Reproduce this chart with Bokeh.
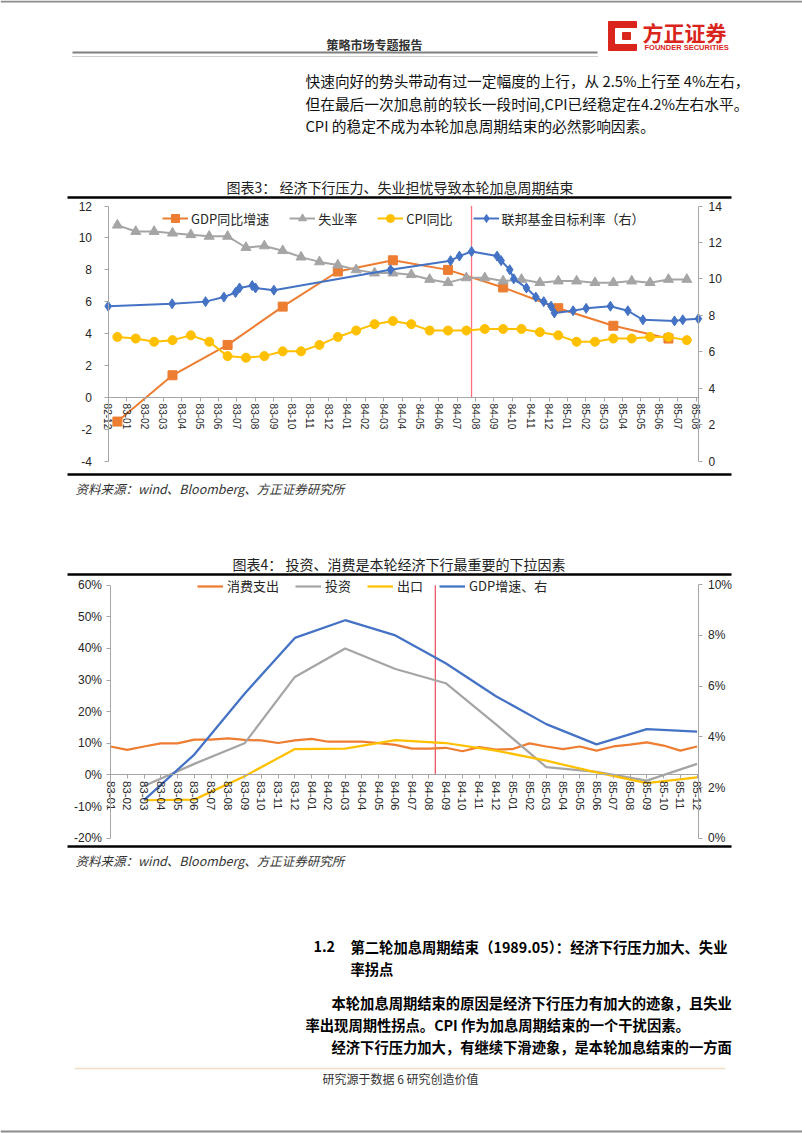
from bokeh.plotting import figure
from bokeh.models import Range1d, LinearAxis, FixedTicker, Legend, LegendItem
from bokeh.embed import file_html
from bokeh.resources import INLINE
from bokeh.core.properties import value

# ---------------- data: chart 3 ----------------
months3 = ["82-12", "83-01", "83-02", "83-03", "83-04", "83-05", "83-06", "83-07", "83-08",
           "83-09", "83-10", "83-11", "83-12", "84-01", "84-02", "84-03", "84-04", "84-05",
           "84-06", "84-07", "84-08", "84-09", "84-10", "84-11", "84-12", "85-01", "85-02",
           "85-03", "85-04", "85-05", "85-06", "85-07", "85-08"]
gdp3_x = [0.5, 3.5, 6.5, 9.5, 12.5, 15.5, 18.5, 21.5, 24.5, 27.5, 30.5]
gdp3 = [-1.5, 1.4, 3.3, 5.7, 7.9, 8.6, 8.0, 6.9, 5.6, 4.5, 3.7]
unemp3 = [10.8, 10.4, 10.4, 10.3, 10.2, 10.1, 10.1, 9.4, 9.5, 9.2, 8.8, 8.5, 8.3, 8.0, 7.8, 7.8,
          7.7, 7.4, 7.2, 7.5, 7.5, 7.3, 7.4, 7.2, 7.3, 7.3, 7.2, 7.2, 7.3, 7.2, 7.4, 7.4]
cpi3 = [3.8, 3.7, 3.5, 3.6, 3.9, 3.5, 2.6, 2.5, 2.6, 2.9, 2.9, 3.3, 3.8, 4.2, 4.6, 4.8,
        4.6, 4.2, 4.2, 4.2, 4.3, 4.3, 4.3, 4.1, 3.9, 3.5, 3.5, 3.7, 3.7, 3.8, 3.8, 3.6]
monthly3_x = [i + 0.5 for i in range(len(unemp3))]   # mid-month positions (Dec-82 .. Jul-85)
fed_x = [0.0, 3.48, 5.3, 6.3, 6.93, 7.15, 7.84, 8.02, 9.02, 15.37, 18.64, 19.12, 19.78, 21.17,
         21.39, 21.86, 22.08, 22.77, 23.28, 23.71, 24.11, 24.29, 25.31, 26.02, 27.34, 28.29,
         29.11, 30.83, 31.28, 32.13]
fed_y = [8.5, 8.63, 8.75, 9.0, 9.25, 9.5, 9.63, 9.5, 9.38, 10.5, 11.0, 11.25, 11.5, 11.25,
         11.0, 10.5, 10.0, 9.5, 9.0, 8.75, 8.5, 8.13, 8.25, 8.38, 8.5, 8.25,
         7.75, 7.69, 7.75, 7.81]
hike_end3 = [19.78]
left3_ticks = [-4, -2, 0, 2, 4, 6, 8, 10, 12]
right3_ticks = [0, 2, 4, 6, 8, 10, 12, 14]
names3 = ["GDP同比增速", "失业率", "CPI同比", "联邦基金目标利率（右）"]

# ---------------- data: chart 4 ----------------
months4 = ["83-01", "83-02", "83-03", "83-04", "83-05", "83-06", "83-07", "83-08", "83-09",
           "83-10", "83-11", "83-12", "84-01", "84-02", "84-03", "84-04", "84-05", "84-06",
           "84-07", "84-08", "84-09", "84-10", "84-11", "84-12", "85-01", "85-02", "85-03",
           "85-04", "85-05", "85-06", "85-07", "85-08", "85-09", "85-10", "85-11", "85-12"]
cons4 = [9.0, 7.9, 9.0, 10.0, 10.0, 11.2, 11.2, 11.6, 11.1, 10.9, 10.1, 10.9, 11.4, 10.5,
         10.5, 10.5, 10.1, 9.5, 8.3, 8.3, 8.6, 7.5, 8.8, 8.0, 8.2, 10.0, 9.0, 8.2, 9.0, 7.7,
         9.0, 9.6, 10.3, 9.3, 7.7, 9.0]
cons4_x = list(range(len(cons4)))
qtr4_x = [2, 5, 8, 11, 14, 17, 20, 23, 26, 29, 32, 35]
inv4 = [-3.5, 3.5, 10.0, 31.0, 40.0, 33.5, 29.0, 16.0, 2.5, 1.0, -1.8, 3.5]
exp4 = [-8.0, -7.8, -0.4, 8.2, 8.3, 11.0, 10.1, 7.7, 4.5, 0.8, -2.6, -0.8]
gdp4 = [1.5, 3.3, 5.7, 7.9, 8.6, 8.0, 6.9, 5.6, 4.5, 3.7, 4.3, 4.2]
hike_end4 = [19.38]
left4_ticks = [-20, -10, 0, 10, 20, 30, 40, 50, 60]
right4_ticks = [0, 2, 4, 6, 8, 10]
names4 = ["消费支出", "投资", "出口", "GDP增速、右"]

# ---------------- page texts ----------------
header_text = "策略市场专题报告"
para_top = ["快速向好的势头带动有过一定幅度的上行，从 2.5%上行至 4%左右，",
            "但在最后一次加息前的较长一段时间,CPI已经稳定在4.2%左右水平。",
            "CPI 的稳定不成为本轮加息周期结束的必然影响因素。"]
title3 = "图表3：  经济下行压力、失业担忧导致本轮加息周期结束"
title4 = "图表4：  投资、消费是本轮经济下行最重要的下拉因素"
source_text = "资料来源：wind、Bloomberg、方正证券研究所"
sec_num = "1.2"
sec_title = ["第二轮加息周期结束（1989.05）：经济下行压力加大、失业", "率拐点"]
para_bottom = ["本轮加息周期结束的原因是经济下行压力有加大的迹象，且失业",
               "率出现周期性拐点。CPI 作为加息周期结束的一个干扰因素。",
               "经济下行压力加大，有继续下滑迹象，是本轮加息结束的一方面"]
footer_text = "研究源于数据 6 研究创造价值"

ORANGE, GRAY, YELLOW, BLUE = "#ED7D31", "#A5A5A5", "#FFC000", "#4472C4"
RED = "#DA251D"
W, H = 802, 1133
CJK = "Noto Sans CJK SC"
AX = "#A6A6A6"
NARROW = "'Liberation Sans Narrow', 'Liberation Sans', sans-serif"


def axis_range(p0, v0, p1, v1, s_px, e_px):
    """Range whose values map linearly so that value v0 sits at pixel p0 and v1 at p1."""
    k = (v1 - v0) / (p1 - p0)
    return Range1d(v0 + (s_px - p0) * k, v0 + (e_px - p0) * k)


def px_to_val(px, p0, v0, p1, v1):
    return v0 + (px - p0) * (v1 - v0) / (p1 - p0)


# one page-sized figure; the default ranges are page pixels (y downwards)
p = figure(width=W, height=H, x_range=Range1d(0, W), y_range=Range1d(H, 0),
           x_axis_type=None, y_axis_type=None, output_backend="svg", toolbar_location=None,
           min_border=0, outline_line_color=None, background_fill_color="white",
           border_fill_color="white")
p.grid.visible = False

# chart frames (pixel layout of the two charts)
C3 = dict(x0=107.7, x32=695.5, yl_lo=461.0, yl_hi=205.5, yr_lo=460.5, yr_hi=205.5, left=107.5, right=698.0)
C4 = dict(x0=110.0, x35=696.6, yl_lo=837.7, yl_hi=584.7, yr_lo=837.7, yr_hi=584.2, left=109.5, right=697.5)

p.extra_x_ranges = {
    "x3": axis_range(C3["x0"], 0, C3["x32"], 32, 0, W),
    "x4": axis_range(C4["x0"], 0, C4["x35"], 35, 0, W),
}
p.extra_y_ranges = {
    "y3L": axis_range(C3["yl_lo"], -4, C3["yl_hi"], 12, H, 0),
    "y3R": axis_range(C3["yr_lo"], 0, C3["yr_hi"], 14, H, 0),
    "y4L": axis_range(C4["yl_lo"], -20, C4["yl_hi"], 60, H, 0),
    "y4R": axis_range(C4["yr_lo"], 0, C4["yr_hi"], 10, H, 0),
}


def txt(x, y, s, size, color="#000000", align="left", style="normal", font=CJK):
    p.text(x=[x], y=[y], text=[s], text_font=value(font), text_font_size=value(size),
           text_color=color, text_align=align, text_baseline="middle", text_font_style=style)


def hline(x0, x1, y, color, width, dash="solid"):
    p.segment(x0=[x0], y0=[y], x1=[x1], y1=[y], line_color=color, line_width=width, line_dash=dash)


def style_axis(ax, size="12px", font="Liberation Sans", standoff=6):
    ax.axis_line_color = AX
    ax.major_tick_line_color = AX
    ax.major_tick_out = 4
    ax.major_tick_in = 0
    ax.minor_tick_out = 0
    ax.minor_tick_in = 0
    ax.major_label_text_font = font
    ax.major_label_text_font_size = size
    ax.major_label_text_color = "#262626"
    ax.major_label_standoff = standoff


# ---------------- page decorations & texts ----------------
hline(0, W, 1, "#8c8c8c", 2)
txt(326, 44, header_text, "12px", "#333333", style="bold")
hline(72, 597, 52, "#7f7f7f", 2)
hline(72, 597, 56, "#a0a0a0", 1, "1 1")
p.patch(x=[608, 636, 636, 608], y=[21, 21, 50, 50], color=RED)
p.patch(x=[615, 640, 640, 615], y=[28, 28, 43, 43], color="white")
p.patch(x=[622, 630, 630, 622], y=[32, 32, 39, 39], color=RED)
txt(642, 31, "方正证券", "21px", RED, style="bold")
txt(644, 47, "FOUNDER SECURITIES", "7.5px", RED, style="bold", font="Liberation Sans")
for i, line in enumerate(para_top):
    txt(305, 80 + 22.5 * i, line, "14.7px", "#111111")

txt(401, 186, title3, "14px", "#222222", align="center")
hline(67, 731, 197, "#000000", 2.5)
hline(67, 731, 474, "#000000", 2.5)
txt(75, 488, source_text, "12.5px", "#333333", style="italic")

txt(400, 563, title4, "14px", "#222222", align="center")
hline(67, 731, 574, "#000000", 2.5)
hline(67, 731, 846, "#000000", 2.5)
txt(75, 860, source_text, "12.5px", "#333333", style="italic")

txt(313, 946, sec_num, "14.3px", "#000000", style="bold")
txt(350, 946, sec_title[0], "14.3px", "#000000", style="bold")
txt(350, 968, sec_title[1], "14.3px", "#000000", style="bold")
txt(331, 1002, para_bottom[0], "14.3px", "#000000", style="bold")
txt(305, 1024, para_bottom[1], "14.3px", "#000000", style="bold")
txt(331, 1046, para_bottom[2], "14.3px", "#000000", style="bold")
hline(74, 725, 1068, "#F3DCC6", 1.5)
txt(322, 1078, footer_text, "12px", "#333333")
hline(0, W, 1131, "#8c8c8c", 2)

# ---------------- chart 3 ----------------
yl3 = LinearAxis(y_range_name="y3L", fixed_location=C3["left"], bounds=(-4, 12),
                 ticker=FixedTicker(ticks=left3_ticks),
                 major_label_overrides={t: str(t) for t in left3_ticks})
style_axis(yl3, "12px", standoff=12)
p.add_layout(yl3, "left")
yr3 = LinearAxis(y_range_name="y3R", fixed_location=C3["right"], bounds=(0, 14),
                 ticker=FixedTicker(ticks=right3_ticks),
                 major_label_overrides={t: str(t) for t in right3_ticks})
style_axis(yr3, "12px", standoff=6)
p.add_layout(yr3, "right")
x3_lo = px_to_val(C3["left"], C3["x0"], 0, C3["x32"], 32)
x3_hi = px_to_val(C3["right"], C3["x0"], 0, C3["x32"], 32)
xa3 = LinearAxis(x_range_name="x3", y_range_name="y3L", fixed_location=0, bounds=(x3_lo, x3_hi),
                 ticker=FixedTicker(ticks=list(range(len(months3)))),
                 major_label_overrides={i: m for i, m in enumerate(months3)},
                 major_label_orientation="vertical")
style_axis(xa3, "10px", standoff=2)
p.add_layout(xa3, "below")

p.segment(x0=hike_end3, y0=[0], x1=hike_end3, y1=[12], x_range_name="x3", y_range_name="y3L",
          line_color="#FF6F7E", line_width=1.3)
kw3L = dict(x_range_name="x3", y_range_name="y3L")
kw3R = dict(x_range_name="x3", y_range_name="y3R")
l1 = p.line(gdp3_x, gdp3, line_color=ORANGE, line_width=2, **kw3L)
s1 = p.scatter(gdp3_x, gdp3, marker="square", size=9, fill_color=ORANGE, line_color=ORANGE, **kw3L)
l2 = p.line(monthly3_x, unemp3, line_color=GRAY, line_width=2, **kw3L)
s2 = p.scatter(monthly3_x, unemp3, marker="triangle", size=10, fill_color=GRAY, line_color=GRAY, **kw3L)
l3 = p.line(monthly3_x, cpi3, line_color=YELLOW, line_width=2, **kw3L)
s3 = p.scatter(monthly3_x, cpi3, marker="circle", size=9, fill_color=YELLOW, line_color=YELLOW, **kw3L)
l4 = p.line(fed_x, fed_y, line_color=BLUE, line_width=2, **kw3R)
s4 = p.scatter(fed_x, fed_y, marker="diamond", size=10, fill_color=BLUE, line_color=BLUE, **kw3R)

leg3 = Legend(items=[LegendItem(label=names3[0], renderers=[l1, s1]),
                     LegendItem(label=names3[1], renderers=[l2, s2]),
                     LegendItem(label=names3[2], renderers=[l3, s3]),
                     LegendItem(label=names3[3], renderers=[l4, s4])],
              orientation="horizontal", location=(162, H - 228), padding=0, margin=0, spacing=20,
              label_standoff=3, glyph_width=26, glyph_height=20, label_height=20,
              label_text_font=CJK, label_text_font_size="13px", label_text_color="#262626",
              border_line_color=None, background_fill_alpha=0)
p.add_layout(leg3)

# ---------------- chart 4 ----------------
yl4 = LinearAxis(y_range_name="y4L", fixed_location=C4["left"], bounds=(-20, 60),
                 ticker=FixedTicker(ticks=left4_ticks),
                 major_label_overrides={t: f"{t}%" for t in left4_ticks})
style_axis(yl4, "12px", font=NARROW, standoff=4)
p.add_layout(yl4, "left")
yr4 = LinearAxis(y_range_name="y4R", fixed_location=C4["right"], bounds=(0, 10),
                 ticker=FixedTicker(ticks=right4_ticks),
                 major_label_overrides={t: f"{t}%" for t in right4_ticks})
style_axis(yr4, "12px", font=NARROW, standoff=6)
p.add_layout(yr4, "right")
x4_lo = px_to_val(C4["left"], C4["x0"], 0, C4["x35"], 35)
x4_hi = px_to_val(C4["right"], C4["x0"], 0, C4["x35"], 35)
xa4 = LinearAxis(x_range_name="x4", y_range_name="y4L", fixed_location=0, bounds=(x4_lo, x4_hi),
                 ticker=FixedTicker(ticks=list(range(len(months4)))),
                 major_label_overrides={i: m for i, m in enumerate(months4)},
                 major_label_orientation="vertical")
style_axis(xa4, "11.5px", standoff=2)
p.add_layout(xa4, "below")

kw4L = dict(x_range_name="x4", y_range_name="y4L")
p.segment(x0=hike_end4, y0=[0], x1=hike_end4, y1=[60], line_color="#EE4A5A", line_width=1.2, **kw4L)
m1 = p.line(cons4_x, cons4, line_color=ORANGE, line_width=2.25, **kw4L)
m2 = p.line(qtr4_x, inv4, line_color=GRAY, line_width=2.25, **kw4L)
m3 = p.line(qtr4_x, exp4, line_color=YELLOW, line_width=2.25, **kw4L)
m4 = p.line(qtr4_x, gdp4, line_color=BLUE, line_width=2.25, x_range_name="x4", y_range_name="y4R")
leg4 = Legend(items=[LegendItem(label=names4[0], renderers=[m1]),
                     LegendItem(label=names4[1], renderers=[m2]),
                     LegendItem(label=names4[2], renderers=[m3]),
                     LegendItem(label=names4[3], renderers=[m4])],
              orientation="horizontal", location=(197, H - 595), padding=0, margin=0, spacing=16,
              label_standoff=4, glyph_width=26, glyph_height=14, label_height=14,
              label_text_font=CJK, label_text_font_size="13px", label_text_color="#262626",
              border_line_color=None, background_fill_alpha=0)
p.add_layout(leg4)

open("out.html", "w").write(file_html(p, INLINE, title="策略市场专题报告"))
